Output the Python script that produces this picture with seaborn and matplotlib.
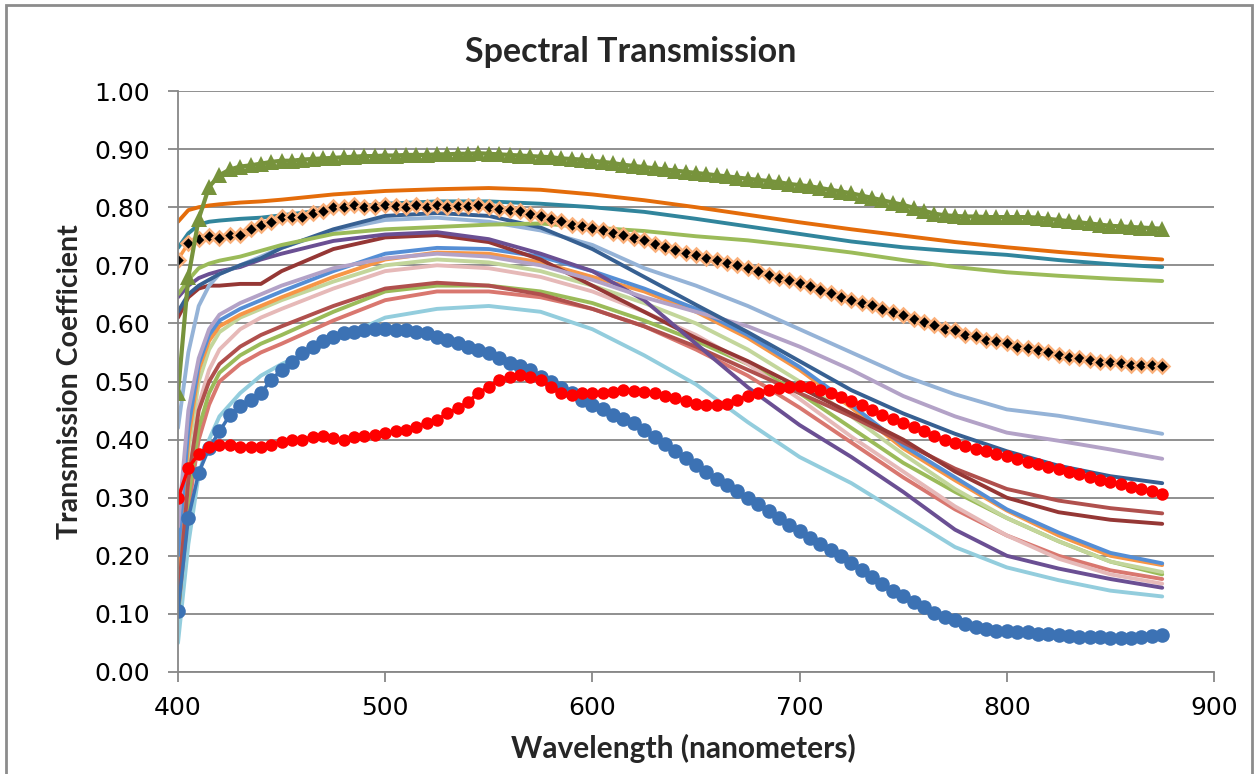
import matplotlib
matplotlib.use("Agg")
import matplotlib.pyplot as plt
from matplotlib.patches import Rectangle
import seaborn as sns

# wavelength grids (nm)
wl_fine = list(range(400, 880, 5))
wl = [400, 405, 410, 415, 420, 430, 440, 450, 475, 500, 525, 550, 575,
      600, 625, 650, 675, 700, 725, 750, 775, 800, 825, 850, 875]

# marker series, one value every 5 nm
blue_dots = [0.105, 0.265, 0.343, 0.385, 0.414, 0.442, 0.458, 0.468, 0.480, 0.503,
             0.520, 0.534, 0.549, 0.560, 0.569, 0.577, 0.583, 0.586, 0.589, 0.590,
             0.590, 0.589, 0.588, 0.586, 0.583, 0.577, 0.571, 0.566, 0.560, 0.554,
             0.549, 0.540, 0.531, 0.526, 0.520, 0.508, 0.500, 0.488, 0.480, 0.468,
             0.460, 0.452, 0.442, 0.436, 0.428, 0.417, 0.405, 0.393, 0.381, 0.369,
             0.357, 0.345, 0.332, 0.321, 0.311, 0.300, 0.289, 0.277, 0.265, 0.253,
             0.242, 0.231, 0.221, 0.210, 0.200, 0.188, 0.176, 0.163, 0.151, 0.140,
             0.130, 0.120, 0.111, 0.102, 0.095, 0.089, 0.083, 0.078, 0.074, 0.071,
             0.070, 0.069, 0.068, 0.066, 0.065, 0.063, 0.062, 0.061, 0.060, 0.060,
             0.059, 0.059, 0.059, 0.060, 0.062, 0.064]

red_dots = [0.299, 0.351, 0.376, 0.388, 0.391, 0.391, 0.388, 0.388, 0.388, 0.391,
            0.396, 0.399, 0.400, 0.405, 0.406, 0.402, 0.400, 0.405, 0.406, 0.408,
            0.411, 0.414, 0.417, 0.422, 0.428, 0.434, 0.445, 0.454, 0.465, 0.480,
            0.491, 0.503, 0.508, 0.511, 0.508, 0.503, 0.491, 0.480, 0.477, 0.480,
            0.480, 0.481, 0.482, 0.485, 0.484, 0.482, 0.480, 0.475, 0.471, 0.467,
            0.462, 0.459, 0.459, 0.462, 0.469, 0.475, 0.481, 0.485, 0.488, 0.491,
            0.492, 0.490, 0.485, 0.480, 0.474, 0.467, 0.459, 0.451, 0.442, 0.435,
            0.428, 0.421, 0.414, 0.406, 0.400, 0.395, 0.389, 0.384, 0.380, 0.375,
            0.371, 0.366, 0.362, 0.358, 0.353, 0.349, 0.345, 0.340, 0.336, 0.331,
            0.327, 0.323, 0.319, 0.315, 0.311, 0.307]

diamonds = [0.710, 0.738, 0.745, 0.750, 0.747, 0.752, 0.752, 0.762, 0.770, 0.775,
            0.783, 0.784, 0.784, 0.790, 0.793, 0.800, 0.800, 0.803, 0.800, 0.800,
            0.803, 0.802, 0.800, 0.803, 0.800, 0.803, 0.800, 0.802, 0.802, 0.803,
            0.800, 0.797, 0.795, 0.793, 0.789, 0.785, 0.780, 0.776, 0.770, 0.767,
            0.764, 0.760, 0.755, 0.753, 0.747, 0.743, 0.737, 0.731, 0.726, 0.722,
            0.717, 0.713, 0.709, 0.704, 0.700, 0.696, 0.690, 0.684, 0.678, 0.675,
            0.669, 0.665, 0.657, 0.652, 0.646, 0.640, 0.635, 0.631, 0.625, 0.619,
            0.614, 0.608, 0.602, 0.597, 0.590, 0.588, 0.580, 0.578, 0.572, 0.569,
            0.566, 0.560, 0.557, 0.554, 0.551, 0.546, 0.543, 0.540, 0.537, 0.534,
            0.534, 0.531, 0.529, 0.528, 0.528, 0.526]

triangles = [0.480, 0.680, 0.780, 0.835, 0.855, 0.865, 0.870, 0.872, 0.875, 0.878,
             0.880, 0.880, 0.882, 0.883, 0.884, 0.885, 0.886, 0.887, 0.888, 0.888,
             0.889, 0.889, 0.890, 0.890, 0.890, 0.891, 0.891, 0.892, 0.892, 0.893,
             0.892, 0.891, 0.890, 0.889, 0.888, 0.887, 0.886, 0.884, 0.883, 0.882,
             0.880, 0.878, 0.876, 0.873, 0.871, 0.869, 0.867, 0.865, 0.863, 0.861,
             0.859, 0.857, 0.855, 0.853, 0.851, 0.849, 0.847, 0.845, 0.843, 0.840,
             0.838, 0.836, 0.833, 0.830, 0.827, 0.824, 0.820, 0.816, 0.812, 0.808,
             0.804, 0.799, 0.794, 0.789, 0.786, 0.785, 0.784, 0.784, 0.783, 0.783,
             0.783, 0.783, 0.783, 0.782, 0.780, 0.778, 0.776, 0.774, 0.772, 0.770,
             0.768, 0.767, 0.766, 0.765, 0.764, 0.763]

# plain line series on the coarser grid
orange_top = [0.775, 0.795, 0.800, 0.803, 0.805, 0.808, 0.810, 0.813, 0.822, 0.828, 0.831, 0.833, 0.830,
              0.822, 0.812, 0.800, 0.787, 0.774, 0.762, 0.751, 0.740, 0.731, 0.723, 0.716, 0.710]
teal = [0.730, 0.755, 0.770, 0.775, 0.777, 0.780, 0.782, 0.786, 0.797, 0.806, 0.810, 0.810, 0.806,
        0.800, 0.792, 0.780, 0.767, 0.754, 0.741, 0.731, 0.724, 0.718, 0.709, 0.702, 0.697]
green_top = [0.650, 0.675, 0.695, 0.703, 0.708, 0.715, 0.725, 0.735, 0.754, 0.762, 0.766, 0.770, 0.772,
             0.765, 0.759, 0.750, 0.743, 0.733, 0.722, 0.709, 0.697, 0.688, 0.682, 0.677, 0.673]
dark_blue = [0.620, 0.650, 0.665, 0.675, 0.685, 0.700, 0.712, 0.730, 0.762, 0.785, 0.790, 0.785, 0.765,
             0.728, 0.680, 0.632, 0.585, 0.535, 0.485, 0.445, 0.410, 0.380, 0.355, 0.337, 0.325]
light_blue = [0.420, 0.550, 0.630, 0.665, 0.685, 0.700, 0.715, 0.730, 0.760, 0.778, 0.782, 0.775, 0.760,
              0.735, 0.695, 0.665, 0.630, 0.590, 0.550, 0.510, 0.478, 0.452, 0.441, 0.426, 0.410]
lavender = [0.250, 0.450, 0.540, 0.590, 0.615, 0.635, 0.650, 0.665, 0.695, 0.712, 0.720, 0.715, 0.700,
            0.675, 0.645, 0.620, 0.595, 0.560, 0.520, 0.475, 0.440, 0.412, 0.398, 0.383, 0.367]
purple = [0.645, 0.665, 0.678, 0.685, 0.690, 0.697, 0.710, 0.720, 0.742, 0.753, 0.757, 0.745, 0.720,
          0.690, 0.640, 0.565, 0.490, 0.425, 0.370, 0.310, 0.245, 0.200, 0.178, 0.160, 0.145]
dark_red = [0.610, 0.645, 0.660, 0.665, 0.665, 0.668, 0.668, 0.690, 0.728, 0.748, 0.752, 0.740, 0.710,
            0.665, 0.620, 0.575, 0.535, 0.490, 0.445, 0.400, 0.345, 0.300, 0.275, 0.262, 0.255]
red_brown = [0.120, 0.330, 0.450, 0.500, 0.530, 0.560, 0.580, 0.595, 0.630, 0.660, 0.670, 0.665, 0.650,
             0.625, 0.595, 0.560, 0.520, 0.480, 0.440, 0.395, 0.350, 0.315, 0.295, 0.282, 0.273]
blue = [0.200, 0.420, 0.530, 0.580, 0.605, 0.625, 0.640, 0.655, 0.690, 0.720, 0.730, 0.728, 0.715,
        0.690, 0.660, 0.625, 0.580, 0.525, 0.460, 0.390, 0.335, 0.280, 0.240, 0.205, 0.187]
orange_thin = [0.180, 0.400, 0.520, 0.570, 0.595, 0.615, 0.630, 0.645, 0.680, 0.710, 0.722, 0.720, 0.705,
               0.680, 0.655, 0.620, 0.575, 0.520, 0.455, 0.385, 0.330, 0.278, 0.235, 0.200, 0.184]
light_green = [0.150, 0.380, 0.500, 0.555, 0.585, 0.610, 0.625, 0.640, 0.672, 0.700, 0.710, 0.705, 0.690,
               0.665, 0.635, 0.600, 0.555, 0.500, 0.440, 0.375, 0.315, 0.265, 0.225, 0.190, 0.172]
pink = [0.130, 0.330, 0.460, 0.520, 0.555, 0.590, 0.610, 0.625, 0.660, 0.690, 0.700, 0.695, 0.680,
        0.655, 0.620, 0.580, 0.530, 0.470, 0.405, 0.345, 0.285, 0.235, 0.195, 0.168, 0.152]
green_low = [0.100, 0.300, 0.420, 0.480, 0.515, 0.545, 0.565, 0.580, 0.620, 0.655, 0.665, 0.665, 0.655,
             0.635, 0.605, 0.570, 0.530, 0.480, 0.420, 0.360, 0.310, 0.265, 0.225, 0.190, 0.168]
salmon = [0.100, 0.280, 0.400, 0.460, 0.500, 0.530, 0.550, 0.565, 0.605, 0.640, 0.655, 0.655, 0.645,
          0.625, 0.595, 0.555, 0.510, 0.455, 0.395, 0.335, 0.280, 0.235, 0.200, 0.175, 0.160]
aqua = [0.050, 0.220, 0.340, 0.400, 0.440, 0.480, 0.510, 0.530, 0.570, 0.610, 0.625, 0.630, 0.620,
        0.590, 0.545, 0.495, 0.430, 0.370, 0.325, 0.270, 0.215, 0.180, 0.158, 0.140, 0.130]

y_ticks = [0.0, 0.1, 0.2, 0.3, 0.4, 0.5, 0.6, 0.7, 0.8, 0.9, 1.0]
x_ticks = [400, 500, 600, 700, 800, 900]

sns.set_style("white")
plt.rcParams['font.family'] = ['Lato', 'DejaVu Sans']

fig = plt.figure(figsize=(12.57, 7.74), dpi=100)
ax = fig.add_axes([0.1416, 0.1318, 0.8242, 0.7506])

# thin lines first so the marker series sit on top
thin = [
    (aqua, '#93CDDD'), (salmon, '#D9776F'), (green_low, '#9BBB59'), (pink, '#E6B9B8'),
    (light_green, '#C3D69B'), (orange_thin, '#F79646'), (blue, '#558ED5'),
    (red_brown, '#B0504D'), (dark_red, '#953735'), (purple, '#6A4F93'),
    (lavender, '#B3A2C7'), (light_blue, '#95B3D7'), (dark_blue, '#376092'),
    (green_top, '#9BBB59'), (teal, '#31859C'), (orange_top, '#E46C0A'),
]
for vals, col in thin:
    sns.lineplot(x=wl, y=vals, ax=ax, color=col, linewidth=2.8, estimator=None)

sns.lineplot(x=wl_fine, y=blue_dots, ax=ax, color='#3C72B4', linewidth=2.5,
             marker='o', markersize=10.5, markeredgewidth=0, estimator=None)
sns.lineplot(x=wl_fine, y=red_dots, ax=ax, color='#FF0000', linewidth=2.5,
             marker='o', markersize=9, markeredgewidth=0, estimator=None)
sns.lineplot(x=wl_fine, y=diamonds, ax=ax, color='#F79646', linewidth=2.5,
             marker='D', markersize=7, markerfacecolor='black',
             markeredgecolor='#FAB07A', markeredgewidth=1.8, estimator=None)
sns.lineplot(x=wl_fine, y=triangles, ax=ax, color='#77933C', linewidth=3,
             marker='^', markersize=11, markeredgewidth=0, estimator=None)

ax.set_xlim(400, 900)
ax.set_ylim(0, 1.0)
ax.set_xticks(x_ticks)
ax.set_yticks(y_ticks)
ax.set_yticklabels([f"{v:.2f}" for v in y_ticks], family='DejaVu Sans', fontsize=18)
ax.set_xticklabels([str(v) for v in x_ticks], family='DejaVu Sans', fontsize=18)
ax.yaxis.grid(True, color='#878787', linewidth=1.3)
ax.xaxis.grid(False)
for side in ['top', 'right']:
    ax.spines[side].set_visible(False)
for side in ['left', 'bottom']:
    ax.spines[side].set_color('#878787')
    ax.spines[side].set_linewidth(1.3)
ax.tick_params(axis='both', which='major', direction='out', length=7, width=1.3,
               color='#878787', colors='black', left=True, bottom=True)
ax.tick_params(axis='x', pad=10)
ax.tick_params(axis='y', pad=13)

fig.text(631 / 1257, 1 - 52 / 774, "Spectral Transmission", fontsize=24.5,
         fontweight='bold', ha='center', va='center')
ax.set_xlabel("Wavelength (nanometers)", fontsize=21.5, fontweight='bold')
ax.xaxis.set_label_coords((683 - 178) / 1036, -(748 - 672) / 581)
ax.xaxis.label.set_va('center')
ax.set_ylabel("Transmission Coefficient", fontsize=20.5, fontweight='bold', labelpad=8)

# chart area border
fig.patches.append(Rectangle((6 / 1257, -0.05), 1246 / 1257, 1.05 - 5 / 774,
                             transform=fig.transFigure, fill=False,
                             edgecolor='#8C8C8C', linewidth=2, clip_on=False))

fig.savefig("out.png", dpi=100)
